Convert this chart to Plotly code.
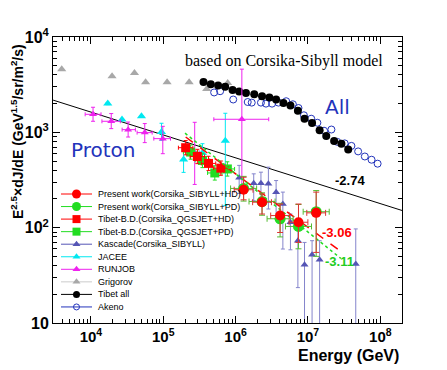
import plotly.graph_objects as go
import numpy as np

# ---------------- data ----------------
# Grigorov (all particle)
grig_E = [3950, 19600, 40000, 57000, 113000, 228000, 398000, 777000]
grig_F = [4600, 3880, 4200, 3360, 3360, 3360, 2840, 3300]

# Tibet all
tib_E = [3.6e5, 4.54e5, 5.73e5, 7.18e5, 9.08e5, 1.12e6, 1.39e6, 1.81e6, 2.32e6, 2.93e6,
         3.63e6, 4.58e6, 5.73e6, 7.26e6, 8.97e6, 1.14e7, 1.45e7, 1.79e7, 2.30e7, 2.90e7, 3.60e7]
tib_F = [3380, 3200, 3100, 3010, 2780, 2680, 2590, 2510, 2390, 2320,
         2210, 2030, 1910, 1680, 1390, 1250, 1050, 915, 810, 760, 660]

# Akeno
ake_E = [5.05e5, 6.11e5, 9.27e5, 1.47e6, 1.67e6, 2.24e6, 2.63e6, 3.19e6, 3.91e6, 5.0e6,
         6.19e6, 7.4e6, 8.79e6, 1.11e7, 1.35e7, 1.67e7, 2.11e7, 2.55e7, 3.22e7, 3.99e7,
         4.94e7, 6.11e7, 7.57e7, 9.18e7]
ake_F = [2620, 2700, 2210, 2080, 2050, 2050, 2000, 2000, 2050, 2120,
         1970, 1800, 1510, 1390, 1260, 1040, 1070, 794, 766, 721,
         631, 558, 516, 469]

# RUNJOB (proton)
run_E = [1.07e4, 1.91e4, 3.27e4, 5.55e4, 9.86e4, 2.72e5, 1.22e6]
run_F = [1546, 1306, 1067, 993, 859, 615, 1371]
run_Elo = [8330, 14200, 27000, 43500, 74000, 232000, 5.0e5]
run_Ehi = [13800, 25500, 41200, 70300, 126000, 319000, 2.87e6]
run_Flo = [1306, 1094, 893, 780, 597, 284, 277]
run_Fhi = [1833, 1574, 1283, 1236, 1156, 1274, 4600]

# JACEE (proton)
jac_E = [17100, 26900, 50000, 94600, 191000, 348000, 721000]
jac_F = [2005, 1361, 1472, 1007, 520, 606, 815]
jac_Flo = [1950, 1330, 1440, 824, 380, 480, 171]
jac_Fhi = [2060, 1390, 1500, 1245, 730, 760, 1585]

# Kascade (Corsika_SIBYLL)
kas_E = [1.12e6, 1.78e6, 2.24e6, 2.84e6, 3.63e6, 4.5e6, 5.73e6, 7.26e6, 8.97e6, 1.14e7, 1.45e7, 4.58e7]
kas_F = [334, 293, 293, 288, 235, 177, 114, 73, 40.8, 52, 46, 41.5]
kas_Flo = [228, 192, 177, 157, 124, 59.7, 58.6, 23.5, 1, 1, 1, 1]
kas_Fhi = [450, 367, 382, 431, 312, 236, 139, 119, 70, 73, 73, 97]

# Tibet-B.D. (Corsika_QGSJET+HD) / (+PD)
bdh_E = [204000, 296000, 422000, 625000]
bdh_F = [690, 558, 472, 421]
bdp_E = [239000, 348000, 516000, 769000]
bdp_F = [621, 507, 375, 413]

# Present work (Corsika_SIBYLL+HD) / (+PD)
pwh_E = [1.29e6, 2.32e6, 4.12e6, 7.4e6, 1.3e7]
pwh_F = [250, 185, 134, 114, 143]
pwh_Flo = [196, 139, 89, 70, 55]
pwh_Fhi = [338, 226, 177, 177, 236]
pwp_E = [1.29e6, 2.32e6, 4.12e6, 7.4e6, 1.3e7]
pwp_F = [258, 188, 124, 103, 147]
pwp_Flo = [190, 135, 80, 60, 50]
pwp_Fhi = [345, 232, 180, 175, 245]

# power-law fits: (index, flux at 1e6 GeV, E range)
fit_all = dict(index=-2.74, norm=540.0, E=[3.0e3, 2.0e8])
fit_hd = dict(index=-3.06, norm=367.0, E=[2.04e5, 2.95e7])
fit_pd = dict(index=-3.11, norm=367.0, E=[2.0e5, 2.85e7])

x_ticks = [1e4, 1e5, 1e6, 1e7, 1e8]
x_ticktext = ["10<sup>4</sup>", "10<sup>5</sup>", "10<sup>6</sup>", "10<sup>7</sup>", "10<sup>8</sup>"]
y_ticks = [10, 100, 1000, 10000]
y_ticktext = ["10", "10<sup>2</sup>", "10<sup>3</sup>", "10<sup>4</sup>"]

legend_labels = ["Present work(Corsika_SIBYLL+HD)", "Present work(Corsika_SIBYLL+PD)",
                 "Tibet-B.D.(Corsika_QGSJET+HD)", "Tibet-B.D.(Corsika_QGSJET+PD)",
                 "Kascade(Corsika_SIBYLL)", "JACEE", "RUNJOB", "Grigorov", "Tibet all", "Akeno"]

# ---------------- styles ----------------
RED = "#ff0000"
GREEN = "#22dd22"
KAS = "#5555b5"
KAS_ERR = "#8585cc"
CYAN = "#00e8f0"
MAG = "#ee22ee"
GRAY = "#a8a8a8"
BLUE = "#2233bb"


def fitline(f):
    E = np.array(f["E"])
    return E, f["norm"] * (E / 1e6) ** (f["index"] + 2.5)


def errs(v, lo, hi):
    v = np.array(v, float)
    return dict(type="data", symmetric=False, array=(np.array(hi) - v).tolist(),
                arrayminus=(v - np.array(lo)).tolist())


fig = go.Figure()

# fit -2.74
E, F = fitline(fit_all)
fig.add_trace(go.Scatter(x=E, y=F, mode="lines", line=dict(color="black", width=1), hoverinfo="skip"))

fig.add_trace(go.Scatter(x=grig_E, y=grig_F, mode="markers",
                         marker=dict(symbol="triangle-up", size=8, color=GRAY)))
fig.add_trace(go.Scatter(x=ake_E, y=ake_F, mode="markers",
                         marker=dict(symbol="circle-open", size=7, color=BLUE, line=dict(width=1))))
fig.add_trace(go.Scatter(x=tib_E, y=tib_F, mode="markers",
                         marker=dict(symbol="circle", size=8, color="black")))

# JACEE
fig.add_trace(go.Scatter(x=jac_E, y=jac_F, mode="markers",
                         marker=dict(symbol="triangle-up", size=8, color=CYAN),
                         error_y=dict(errs(jac_F, jac_Flo, jac_Fhi), color=CYAN, width=2, thickness=1)))
# RUNJOB
fig.add_trace(go.Scatter(x=run_E, y=run_F, mode="markers",
                         marker=dict(symbol="triangle-up", size=7, color=MAG),
                         error_y=dict(errs(run_F, run_Flo, run_Fhi), color=MAG, width=2, thickness=1),
                         error_x=dict(errs(run_E, run_Elo, run_Ehi), color=MAG, width=2, thickness=1)))
# Kascade
fig.add_trace(go.Scatter(x=kas_E, y=kas_F, mode="markers",
                         marker=dict(symbol="triangle-up", size=7, color=KAS),
                         error_y=dict(errs(kas_F, kas_Flo, kas_Fhi), color=KAS_ERR, width=2, thickness=1)))

# Tibet-B.D. squares
bd_xe = 0.1
for E_, F_, col in [(bdp_E, bdp_F, GREEN), (bdh_E, bdh_F, RED)]:
    E_ = np.array(E_); F_ = np.array(F_)
    fig.add_trace(go.Scatter(x=E_, y=F_, mode="markers",
                             marker=dict(symbol="square", size=9, color=col),
                             error_y=dict(errs(F_, F_ / 10 ** 0.075, F_ * 10 ** 0.075), color=col, width=2, thickness=1),
                             error_x=dict(errs(E_, E_ / 10 ** bd_xe, E_ * 10 ** bd_xe), color=col, width=2, thickness=1)))

# fits -3.06 / -3.11
E, F = fitline(fit_hd)
fig.add_trace(go.Scatter(x=E, y=F, mode="lines", line=dict(color=RED, width=1.5, dash="dash")))
E, F = fitline(fit_pd)
fig.add_trace(go.Scatter(x=E, y=F, mode="lines", line=dict(color=GREEN, width=1.5, dash="dot")))

# Present work circles
pE = np.array(pwp_E)
fig.add_trace(go.Scatter(x=pwp_E, y=pwp_F, mode="markers",
                         marker=dict(symbol="circle", size=11, color=GREEN),
                         error_y=dict(errs(pwp_F, pwp_Flo, pwp_Fhi), color="#55bb33", width=3, thickness=1),
                         error_x=dict(errs(pE, pE / 10 ** 0.18, pE * 10 ** 0.18), color="#55bb33", width=3, thickness=1)))
hE = np.array(pwh_E)
fig.add_trace(go.Scatter(x=pwh_E, y=pwh_F, mode="markers",
                         marker=dict(symbol="circle", size=10, color=RED),
                         error_y=dict(errs(pwh_F, pwh_Flo, pwh_Fhi), color="#dd3333", width=3, thickness=1),
                         error_x=dict(errs(hE, hE / 10 ** 0.13, hE * 10 ** 0.13), color="#dd3333", width=3, thickness=1)))

# ---------------- manual legend (pixel overlay axes, screen px) ----------------
leg_styles = [
    (RED, "circle", 9), (GREEN, "circle", 9), (RED, "square", 8), (GREEN, "square", 8),
    (KAS, "triangle-up", 7), (CYAN, "triangle-up", 7), (MAG, "triangle-up", 7),
    (GRAY, "triangle-up", 7), ("black", "circle", 7), (BLUE, "circle-open", 6),
]
leg_y0, leg_dy = 194.0, 12.55
for i, (lab, (col, sym, sz)) in enumerate(zip(legend_labels, leg_styles)):
    yy = leg_y0 + i * leg_dy
    lcol = "#cccccc" if col == GRAY else col
    fig.add_trace(go.Scatter(x=[61, 92], y=[yy, yy], mode="lines", line=dict(color=lcol, width=1),
                             xaxis="x2", yaxis="y2"))
    fig.add_trace(go.Scatter(x=[76.5], y=[yy], mode="markers",
                             marker=dict(symbol=sym, size=sz, color=col, line=dict(width=1) if "open" in sym else None),
                             xaxis="x2", yaxis="y2"))
    fig.add_annotation(x=96, y=yy, xref="x2", yref="y2", text=lab, showarrow=False,
                       xanchor="left", yanchor="middle",
                       font=dict(family="Arial", size=9, color="black"))

# ---------------- text labels ----------------
def txt(x, y, s, **font):
    fig.add_annotation(x=x, y=y, xref="x2", yref="y2", text=s, showarrow=False,
                       xanchor="center", yanchor="middle", font=font)

txt(284, 61, "based on Corsika-Sibyll model", family="Liberation Serif", size=16, color="black")
txt(337, 107, "All", family="DejaVu Sans", size=20, color=BLUE)
txt(103, 150, "Proton", family="DejaVu Sans", size=20, color=BLUE)
txt(350, 180, "<b>-2.74</b>", family="Arial", size=13, color="black")
txt(337, 232, "<b>-3.06</b>", family="Arial", size=13, color=RED)
txt(339, 261, "<b>-3.11</b>", family="Arial", size=13, color="#22cc22")

# axis titles
fig.add_annotation(x=(17 - 53) / 349, y=(323 - 132) / 286, xref="paper", yref="paper",
                   text="E<sup>2.5</sup>×dJ/dE (GeV<sup>1.5</sup>/sr/m<sup>2</sup>/s)",
                   textangle=-90, showarrow=False, xanchor="center", yanchor="middle",
                   font=dict(family="Arial", size=14, color="black", weight="bold"))
fig.add_annotation(x=(401 - 53) / 349, y=(323 - 355) / 286, xref="paper", yref="paper",
                   text="Energy (GeV)", showarrow=False, xanchor="right", yanchor="middle",
                   font=dict(family="Arial", size=16, color="black", weight="bold"))

x_minor = [m * 10 ** d for d in range(3, 9) for m in range(2, 10)]
y_minor = [m * 10 ** d for d in range(1, 4) for m in range(2, 10)]

# page body has an 8px margin: figure is drawn at (8,8) in the window
fig.update_layout(
    width=439, height=362,
    margin=dict(l=45, r=45, t=29, b=47),
    paper_bgcolor="white", plot_bgcolor="white",
    showlegend=False,
    xaxis=dict(type="log", range=[3.476, 8.3], tickvals=x_ticks, ticktext=x_ticktext,
               ticks="inside", ticklen=7, tickcolor="black", showline=True, linecolor="black",
               linewidth=1, mirror="ticks", showgrid=False, zeroline=False,
               tickfont=dict(family="Arial", size=15, color="black", weight="bold"),
               minor=dict(tickvals=x_minor, ticks="inside", ticklen=4, tickcolor="black", showgrid=False)),
    yaxis=dict(type="log", range=[1, 4], tickvals=y_ticks, ticktext=y_ticktext,
               ticks="inside", ticklen=7, tickcolor="black", showline=True, linecolor="black",
               linewidth=1, mirror="ticks", showgrid=False, zeroline=False,
               tickfont=dict(family="Arial", size=16, color="black", weight="bold"),
               minor=dict(tickvals=y_minor, ticks="inside", ticklen=4, tickcolor="black", showgrid=False)),
    xaxis2=dict(overlaying="x", range=[53, 402], visible=False, fixedrange=True),
    yaxis2=dict(overlaying="y", range=[323, 37], visible=False, fixedrange=True),
)

fig.write_html("out.html")
